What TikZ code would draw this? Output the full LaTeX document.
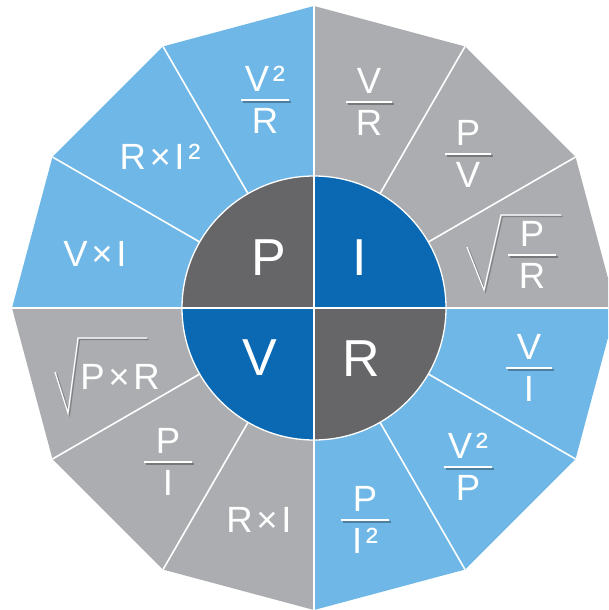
\documentclass[tikz,border=0pt]{standalone}
\usepackage{fontspec}
\setmainfont{Liberation Sans}
\newfontfamily\lblfont[LetterSpace=10]{Liberation Sans}
\usetikzlibrary{calc}
\definecolor{lblue}{RGB}{110,183,230}
\definecolor{mgray}{RGB}{171,173,176}
\definecolor{dgray}{RGB}{102,102,105}
\definecolor{dblue}{RGB}{10,105,178}
\tikzset{
  divider/.style={white, line width=1.6pt},
  bigletter/.style={text=white, font=\fontsize{52}{52}\selectfont, inner sep=0pt},
  outer/.style={text=white, font=\lblfont\fontsize{36.5}{36.5}\selectfont, inner sep=0pt},
  fracline/.style={white, line width=2pt},
  shadowline/.style={black, opacity=0.3, line width=2pt},
  radline/.style={white, line width=1.2pt, line join=miter},
  radshadow/.style={black, opacity=0.25, line width=1.2pt},
}
% #1 name, #2 coordinate, #3 options, #4 text
\newcommand\lbl[4]{%
  \node[outer, #3] (#1) at (#2) {#4};}
% #1 name, #2 x, #3 y of line, #4 numerator, #5 denominator, #6 half width
\newcommand\frc[6]{%
  \lbl{#1n}{#2,#3-9}{anchor=base}{#4}
  \draw[shadowline] (#2-#6+1.5,#3+1.5) -- (#2+#6+1.5,#3+1.5);
  \draw[fracline] (#2-#6,#3) -- (#2+#6,#3);
  \lbl{#1d}{#2,#3+33}{anchor=base}{#5}}
\begin{document}
\begin{tikzpicture}[x=1pt,y=-1pt]
\useasboundingbox (0,0) rectangle (608,610);
\clip (0,0) rectangle (608,610);
\coordinate (c) at (314,308);
\foreach \i in {0,...,11} \coordinate (v\i) at ($(c)+(-\i*30:302)$);
% outer sectors
\fill[mgray] (c) -- (v0) -- (v1) -- (v2) -- (v3) -- cycle;
\fill[lblue] (c) -- (v3) -- (v4) -- (v5) -- (v6) -- cycle;
\fill[mgray] (c) -- (v6) -- (v7) -- (v8) -- (v9) -- cycle;
\fill[lblue] (c) -- (v9) -- (v10) -- (v11) -- (v0) -- cycle;
\foreach \i in {0,...,11} \draw[divider] (c) -- (v\i);
% inner circle
\fill[dgray] (c) -- +(-90:132) arc[start angle=-90, end angle=-180, radius=132] -- cycle;
\fill[dblue] (c) -- +(0:132) arc[start angle=0, end angle=-90, radius=132] -- cycle;
\fill[dblue] (c) -- +(180:132) arc[start angle=180, end angle=90, radius=132] -- cycle;
\fill[dgray] (c) -- +(90:132) arc[start angle=90, end angle=0, radius=132] -- cycle;
\draw[white, line width=1.3pt] (c) circle[radius=132];
\draw[divider] (v3) -- (v9);
\draw[divider] (v0) -- (v6);
% centre letters
\node[bigletter] (P) at (269,258) {P};
\node[bigletter] (I) at (360,258) {I};
\node[bigletter] (V) at (260,358) {V};
\node[bigletter] (R) at (361,359) {R};
% fractions
\frc{vvr}{265}{100}{V²}{R}{24}
\frc{vr}{369}{102}{V}{R}{23}
\frc{pv}{468}{154}{P}{V}{23}
\frc{pr}{532}{255}{P}{R}{24}
\frc{vi}{529}{368}{V}{I}{23}
\frc{vvp}{468}{467}{V²}{P}{24}
\frc{pii}{365}{520}{P}{I²}{24}
\frc{pi}{168}{462}{P}{I}{24}
% radicals
\draw[radshadow] (468.5,248.5) -- (485.5,291.5) -- (502.5,216.5) -- (562.5,216.5);
\draw[radline] (467,247) -- (484,290) -- (501,215) -- (561,215);
\draw[radshadow] (56.5,373.5) -- (69.5,414.5) -- (79.5,339.5) -- (148.5,339.5);
\draw[radline] (55,372) -- (68,413) -- (78,338) -- (147,338);
% inline labels
\lbl{rii}{160,157}{}{R×I²}
\lbl{vxi}{95,254}{}{V×I}
\lbl{rxi}{259,520}{}{R×I}
\lbl{pxr}{120,377}{}{P×R}
\end{tikzpicture}
\end{document}
